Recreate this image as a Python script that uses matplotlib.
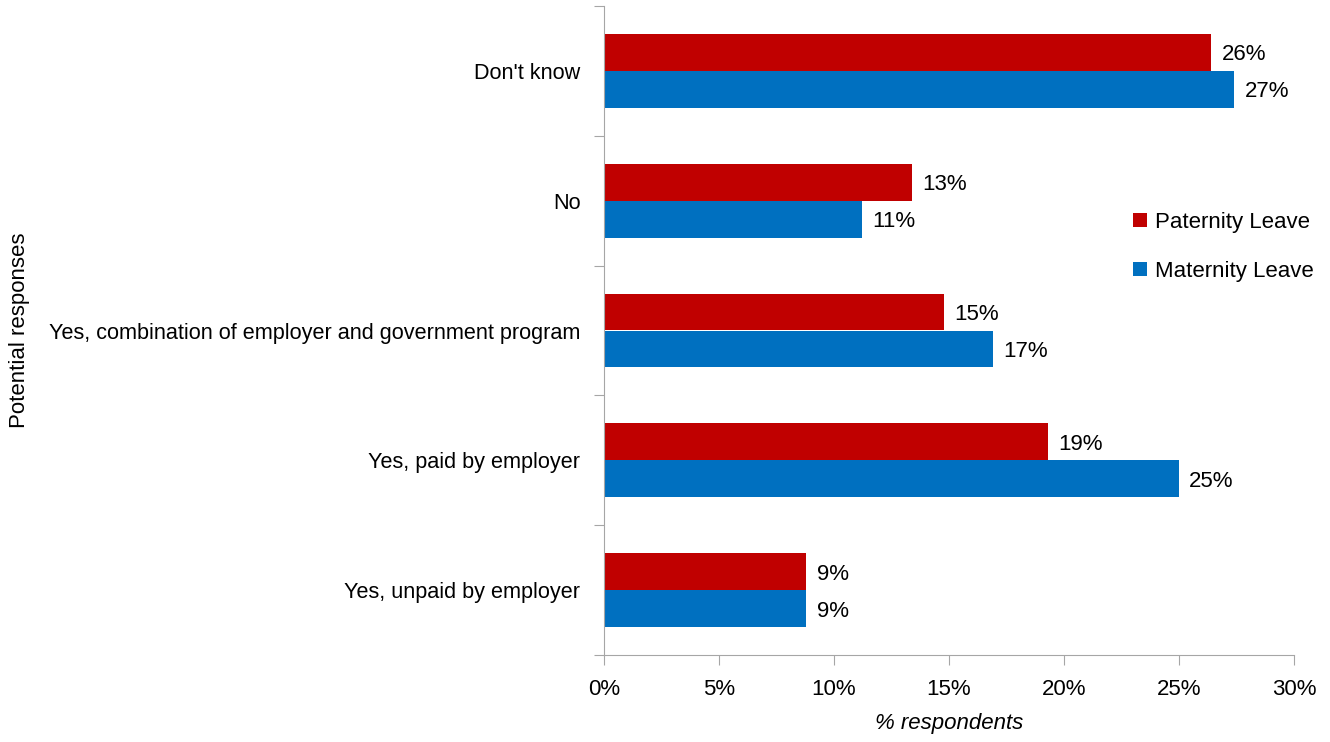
import numpy as np
import matplotlib
matplotlib.use('Agg')
import matplotlib.pyplot as plt
from matplotlib import font_manager

# ── 数据 ──
categories = ["Don't know", "No", "Yes, combination of employer and government program",
              "Yes, paid by employer", "Yes, unpaid by employer"]
paternity = [26.4, 13.4, 14.8, 19.3, 8.8]
maternity = [27.4, 11.2, 16.9, 25.0, 8.8]
x_ticks = [0, 5, 10, 15, 20, 25, 30]

RED = '#c00000'
BLUE = '#0070c0'
GREY = '#a6a6a6'

names = {f.name for f in font_manager.fontManager.ttflist}
family = 'Liberation Sans Narrow' if 'Liberation Sans Narrow' in names else 'Liberation Sans'
plt.rcParams['font.family'] = [family, 'DejaVu Sans']
plt.rcParams['font.size'] = 16

fig = plt.figure(figsize=(13.3, 7.42), dpi=100)
ax = fig.add_axes([604 / 1330, 1 - 655 / 742, 690 / 1330, 649 / 742])

n = len(categories)
pos = np.arange(n)
h = 0.285
ax.barh(pos - h / 2, paternity, height=h, color=RED, label='Paternity Leave')
ax.barh(pos + h / 2, maternity, height=h, color=BLUE, label='Maternity Leave')

for i in range(n):
    ax.text(paternity[i] + 0.45, pos[i] - h / 2 + 0.02, f'{paternity[i]:.0f}%', va='center', ha='left', fontsize=16)
    ax.text(maternity[i] + 0.45, pos[i] + h / 2 + 0.02, f'{maternity[i]:.0f}%', va='center', ha='left', fontsize=16)

ax.set_ylim(n - 0.5, -0.5)
ax.set_xlim(0, 30)
ax.set_xticks(x_ticks)
ax.set_xticklabels([f'{t}%' for t in x_ticks])

# 类别标签放中间, 刻度放在类别边界
ax.set_yticks(np.arange(-0.5, n, 1.0))
ax.set_yticklabels([])
ax.set_yticks(pos, minor=True)
ax.set_yticklabels(categories, minor=True, fontsize=15.6)
ax.tick_params(axis='y', which='minor', length=0, pad=17)
ax.tick_params(axis='y', which='major', length=7, color=GREY, direction='out')
ax.tick_params(axis='x', length=7, color=GREY, direction='out', pad=10)

for s in ['top', 'right']:
    ax.spines[s].set_visible(False)
for s in ['left', 'bottom']:
    ax.spines[s].set_color(GREY)

ax.set_xlabel('% respondents', style='italic', labelpad=10)
ax.set_ylabel('Potential responses')
ax.yaxis.set_label_coords(-0.832, 0.5)

leg = ax.legend(loc='upper left', bbox_to_anchor=(0.738, 0.713), frameon=False,
                handlelength=0.6, handleheight=0.6, handletextpad=0.4, labelspacing=1.25,
                fontsize=16)

fig.savefig('out.png', dpi=100)
